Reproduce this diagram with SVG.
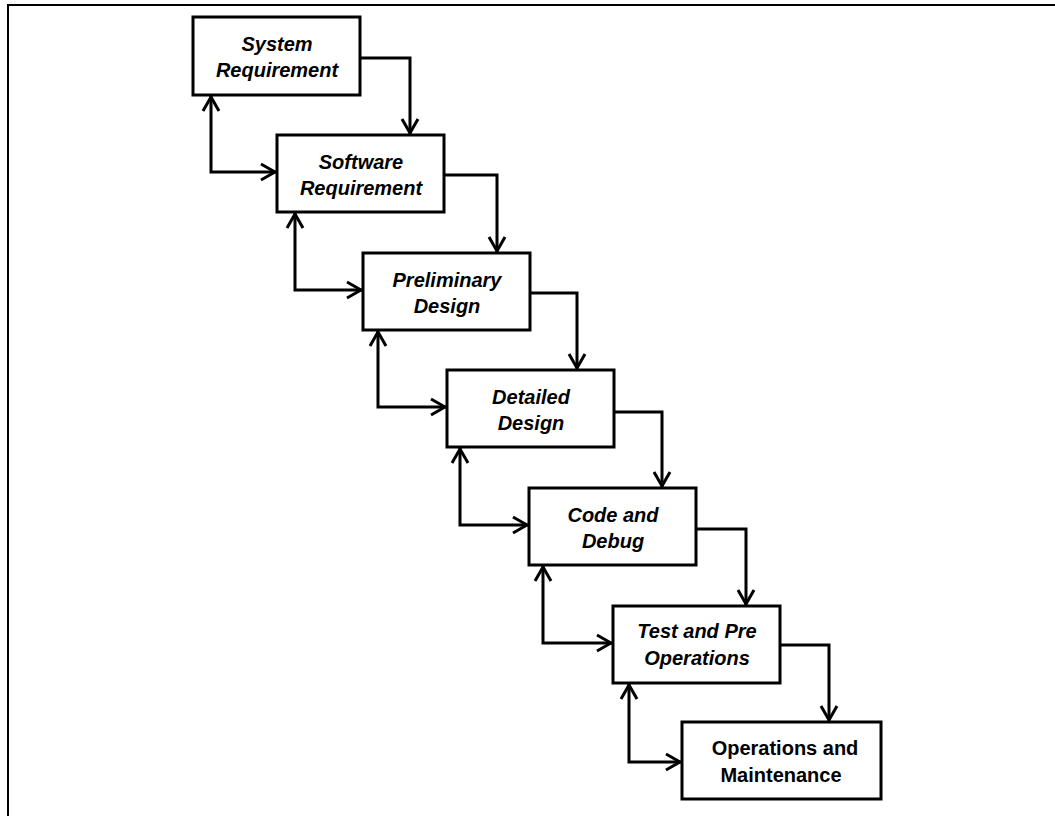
<svg xmlns="http://www.w3.org/2000/svg" width="1055" height="816" viewBox="0 0 1055 816">
<style>
.box{fill:#fff;stroke:#000;stroke-width:3}
.lbl{font-family:"Liberation Sans",Arial,sans-serif;font-size:20px;font-weight:bold;font-style:italic;fill:#000;text-anchor:middle}
.up{font-style:normal}
.con path{fill:none;stroke:#000;stroke-width:3}
.frame{fill:none;stroke:#000;stroke-width:2}
</style>
<defs>
<marker id="ah" viewBox="0 0 20 20" refX="16" refY="10" markerWidth="20" markerHeight="20" markerUnits="userSpaceOnUse" orient="auto-start-reverse">
<path d="M1,2 L15,10 L1,18" fill="none" stroke="#000" stroke-width="3" stroke-linejoin="round"/>
</marker>
</defs>
<rect width="1055" height="816" fill="#fff"/>
<path class="frame" d="M8,816 V5 H1055"/>
<g class="con">
<path d="M360,58 H410 V134" marker-end="url(#ah)"/>
<path d="M444,175 H497 V252" marker-end="url(#ah)"/>
<path d="M530,293 H577 V369" marker-end="url(#ah)"/>
<path d="M614,412 H662 V487" marker-end="url(#ah)"/>
<path d="M696,529 H746 V605" marker-end="url(#ah)"/>
<path d="M780,645 H829 V721" marker-end="url(#ah)"/>
<path d="M211,96 V172 H276" marker-start="url(#ah)" marker-end="url(#ah)"/>
<path d="M295,213 V290 H362" marker-start="url(#ah)" marker-end="url(#ah)"/>
<path d="M378,331 V407 H446" marker-start="url(#ah)" marker-end="url(#ah)"/>
<path d="M460,448 V525 H528" marker-start="url(#ah)" marker-end="url(#ah)"/>
<path d="M543,566 V643 H612" marker-start="url(#ah)" marker-end="url(#ah)"/>
<path d="M629,684 V762 H681" marker-start="url(#ah)" marker-end="url(#ah)"/>
</g>
<g id="n1"><rect class="box" x="193" y="17" width="167" height="78"/><text class="lbl" x="277" y="51">System</text><text class="lbl" x="277" y="77">Requirement</text></g>
<g id="n2"><rect class="box" x="277" y="135" width="167" height="77"/><text class="lbl" x="361" y="169">Software</text><text class="lbl" x="361" y="195">Requirement</text></g>
<g id="n3"><rect class="box" x="363" y="253" width="167" height="77"/><text class="lbl" x="447" y="287">Preliminary</text><text class="lbl" x="447" y="313">Design</text></g>
<g id="n4"><rect class="box" x="447" y="370" width="167" height="77"/><text class="lbl" x="531" y="404">Detailed</text><text class="lbl" x="531" y="430">Design</text></g>
<g id="n5"><rect class="box" x="529" y="488" width="167" height="77"/><text class="lbl" x="613" y="522">Code and</text><text class="lbl" x="613" y="548">Debug</text></g>
<g id="n6"><rect class="box" x="613" y="606" width="167" height="77"/><text class="lbl" x="697" y="638">Test and Pre</text><text class="lbl" x="697" y="665">Operations</text></g>
<g id="n7"><rect class="box" x="682" y="722" width="199" height="77"/><text class="lbl up" x="785" y="755">Operations and</text><text class="lbl up" x="781" y="782">Maintenance</text></g>
</svg>
